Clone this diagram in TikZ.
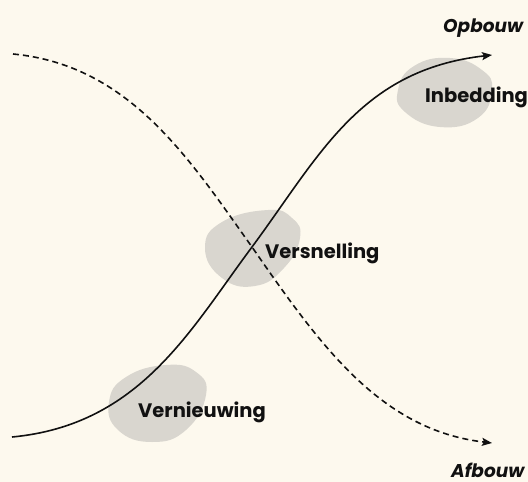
\documentclass[tikz,border=0pt]{standalone}
\usepackage{fontspec}
\setmainfont{Poppins}[BoldFont={* SemiBold}, BoldItalicFont={* SemiBold Italic}]
\newfontfamily\heavyfont{Poppins}[UprightFont={* Bold}, ItalicFont={* Bold Italic}]
\usetikzlibrary{arrows.meta}
\definecolor{bg}{HTML}{FDF9EE}
\definecolor{blob}{HTML}{D9D6CF}
\definecolor{ink}{HTML}{111111}
\tikzset{
  blobshape/.style={fill=blob, draw=none},
  lbl/.style={font=\heavyfont\fontsize{19.5}{22}\selectfont, text=ink, inner sep=0pt, anchor=base west},
  axislbl/.style={font=\heavyfont\itshape\fontsize{18.5}{20}\selectfont, text=ink, inner sep=0pt, anchor=base west},
  curve/.style={draw=ink, line width=1.6pt, -{Stealth[length=10pt,width=8pt,inset=2pt]}},
  dcurve/.style={curve, dash pattern=on 6pt off 4pt}
}
\begin{document}
\begin{tikzpicture}[x=1pt,y=-1pt]
\fill[bg] (0,0) rectangle (528,482);
\useasboundingbox (0,0) rectangle (528,482);
% blobs
\fill[blobshape] plot[smooth cycle, tension=0.8] coordinates {(450,58) (482,70) (492,90) (478,118) (440,127) (405,112) (398,90) (414,66)};
\fill[blobshape] plot[smooth cycle, tension=0.8] coordinates {(268,210) (292,218) (300,238) (284,268) (255,286) (222,278) (205,248) (222,222)};
\fill[blobshape] plot[smooth cycle, tension=0.8] coordinates {(166,365) (196,372) (206,395) (186,430) (152,442) (118,430) (109,402) (126,377)};
% curves
\coordinate (s0) at (12,437);
\coordinate (mid) at (252,247);
\coordinate (s1) at (492,55);
\coordinate (d0) at (13,54);
\coordinate (d1) at (492,443);
\draw[dcurve] (d0) .. controls (130,65) and (190,160) .. (mid) .. controls (320,345) and (380,430) .. (d1);
\draw[curve] (s0) .. controls (140,425) and (190,330) .. (mid) .. controls (320,155) and (360,70) .. (s1);
% labels
\node[axislbl] (opb) at (443,32) {Opbouw};
\node[axislbl] (afb) at (451,477) {Afbouw};
\node[lbl] (inb) at (425,102) {Inbedding};
\node[lbl] (ver) at (265,258) {Versnelling};
\node[lbl] (vern) at (138,417) {Vernieuwing};
\end{tikzpicture}
\end{document}
